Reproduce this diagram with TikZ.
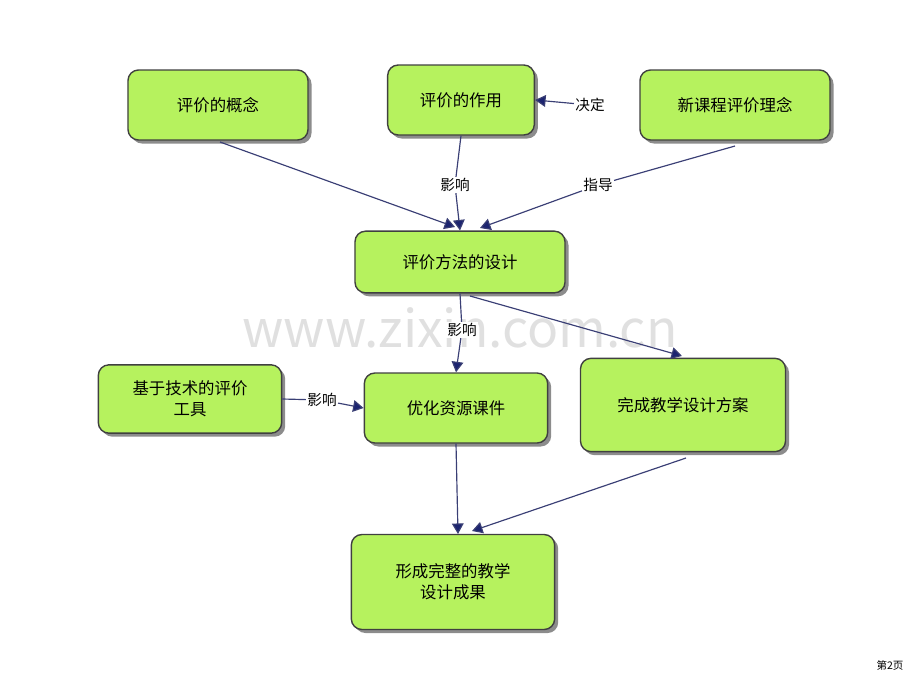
\documentclass[tikz,border=0pt]{standalone}
\usepackage{fontspec}
\setmainfont{Noto Sans CJK SC}
\usetikzlibrary{arrows.meta,shadows}
\definecolor{boxg}{HTML}{B6F25E}
\definecolor{navy}{HTML}{1C2470}
\begin{document}
\begin{tikzpicture}[x=0.03cm,y=-0.03cm,
 box/.style={draw=black!75,line width=1.2pt,fill=boxg,rounded corners=9pt,align=center,font=\fontsize{14}{18}\selectfont,drop shadow={shadow xshift=3pt,shadow yshift=-3pt,fill=black!45,opacity=1}},
 lab/.style={font=\fontsize{12.5}{14}\selectfont,inner sep=1pt,fill=white},
 ln/.style={draw=navy!70!gray,line width=1pt},
 arr/.style={ln,-{Triangle[length=9pt,width=10pt,fill=navy]}}]
\useasboundingbox (0,0) rectangle (920,690);
\node[font=\fontsize{44}{44}\selectfont,text=black!12] (wm) at (460,328) {www.zixin.com.cn};
\node[box,minimum width=5.4cm,minimum height=2.1cm] (a) at (218,105) {评价的概念};
\node[box,minimum width=4.4cm,minimum height=2.1cm] (b) at (461,100) {评价的作用};
\node[box,minimum width=5.7cm,minimum height=2.1cm] (c) at (735,105) {新课程评价理念};
\node[box,minimum width=6.3cm,minimum height=1.85cm] (d) at (460,262) {评价方法的设计};
\node[box,minimum width=5.5cm,minimum height=2.05cm] (e) at (190,399) {基于技术的评价\\工具};
\node[box,minimum width=5.5cm,minimum height=2.1cm] (f) at (456,408) {优化资源课件};
\node[box,minimum width=6.15cm,minimum height=2.8cm] (g) at (683,405) {完成教学设计方案};
\node[box,minimum width=6.1cm,minimum height=2.85cm] (h) at (453,582) {形成完整的教学\\设计成果};
\node[lab] (l1) at (590,105) {决定};
\node[lab] (l2) at (455,185) {影响};
\node[lab] (l3) at (598,185) {指导};
\node[lab] (l4) at (462,330) {影响};
\node[lab] (l5) at (322,400) {影响};
\node[font=\fontsize{9}{10}\selectfont] (pg) at (890,665) {第2页};
\draw[arr] (l1) -- (b.east);
\draw[arr] (a) ++(2,37) -- (455,227);
\draw[ln] (b.south) -- (l2);
\draw[arr] (l2) -- (d.north);
\draw[ln] (c) ++(0,41) -- (l3);
\draw[arr] (l3) -- (480,228);
\draw[arr] (d) ++(10,34) -- (682,356);
\draw[ln] (d.south) -- (l4);
\draw[arr] (l4) -- (f.north);
\draw[ln] (e.east) -- (l5);
\draw[arr] (l5) -- (f.west);
\draw[arr] (f.south) -- (458,534);
\draw[arr] (g) ++(3,53) -- (472,531);
\end{tikzpicture}
\end{document}
